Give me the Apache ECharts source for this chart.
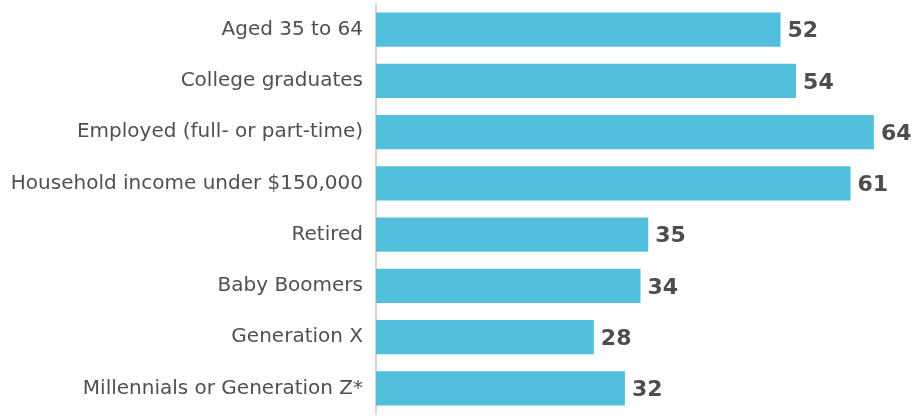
<!DOCTYPE html>
<html>
<head>
<meta charset="utf-8">
<script src="https://cdn.jsdelivr.net/npm/echarts@6/dist/echarts.min.js"></script>
<style>
  html, body { margin: 0; padding: 0; background: #fff; }
  #chart { width: 912px; height: 418px; }
</style>
</head>
<body>
<div id="chart"></div>
<script>
  const categories = [
    'Aged 35 to 64',
    'College graduates',
    'Employed (full- or part-time)',
    'Household income under $150,000',
    'Retired',
    'Baby Boomers',
    'Generation X',
    'Millennials or Generation Z*'
  ]
  const values = [52, 54, 64, 61, 35, 34, 28, 32]

  const chart = echarts.init(document.getElementById('chart'))
  chart.setOption({
    animation: false,
    grid: {left: 376, right: 0, top: 4, bottom: 4},
    xAxis: {
      type: 'value',
      min: 0,
      max: 68.9,
      show: false
    },
    yAxis: {
      type: 'category',
      inverse: true,
      data: categories,
      axisLine: {show: true, lineStyle: {color: '#d4d4d4', width: 2}},
      axisTick: {show: false},
      axisLabel: {
        margin: 13,
        color: '#505050',
        fontFamily: 'DejaVu Sans',
        fontSize: 20
      }
    },
    series: [{
      type: 'bar',
      data: values,
      barCategoryGap: '33%',
      itemStyle: {color: '#52c0dc'},
      label: {
        show: true,
        position: 'right',
        distance: 7,
        offset: [0, 2],
        color: '#4d4d4d',
        fontFamily: 'DejaVu Sans',
        fontWeight: 'bold',
        fontSize: 22
      }
    }]
  })
</script>
</body>
</html>
